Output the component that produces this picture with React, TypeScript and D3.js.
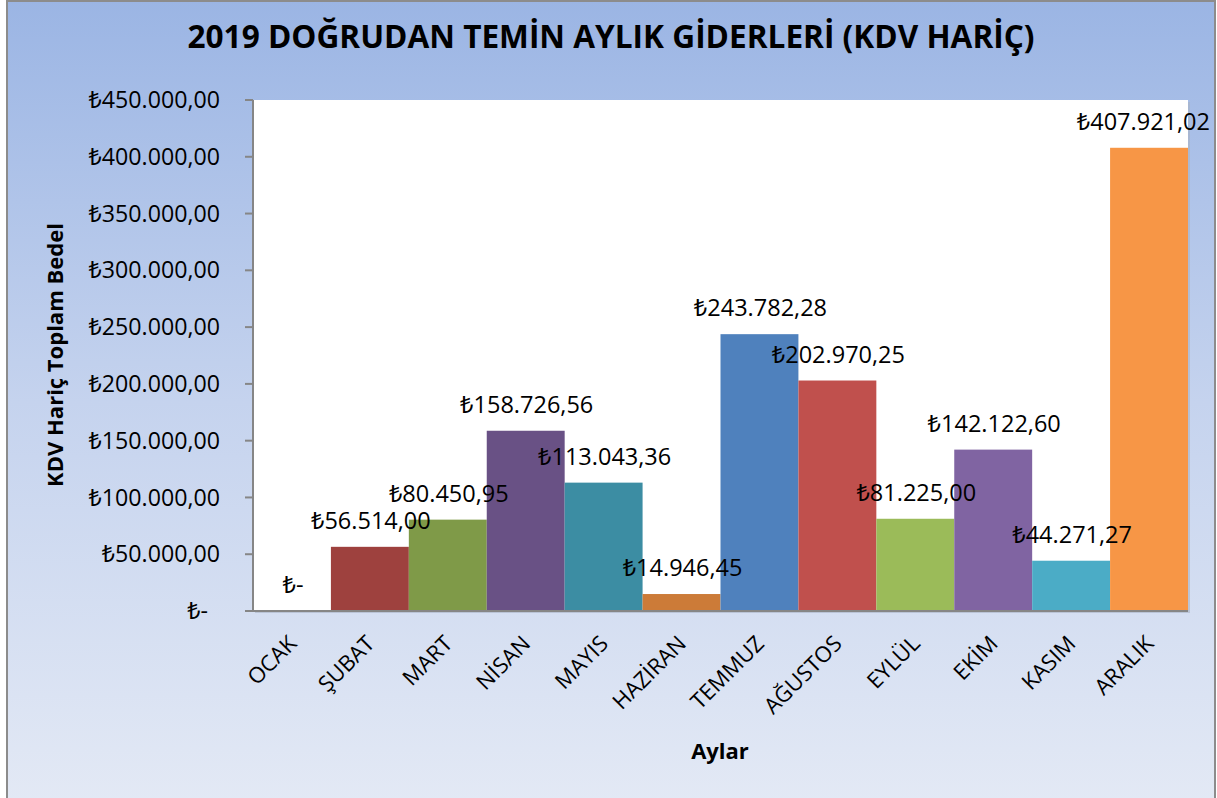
import React from "react";
import * as d3 from "d3";

const months = ["OCAK", "ŞUBAT", "MART", "NİSAN", "MAYIS", "HAZİRAN", "TEMMUZ", "AĞUSTOS", "EYLÜL", "EKİM", "KASIM", "ARALIK"];
const values = [0, 56514.0, 80450.95, 158726.56, 113043.36, 14946.45, 243782.28, 202970.25, 81225.0, 142122.6, 44271.27, 407921.02];
const colors = ["#4F81BD", "#9E413E", "#7F9A48", "#695185", "#3C8DA3", "#CC7B38", "#4F81BD", "#C0504D", "#9BBB59", "#8064A2", "#4BACC6", "#F79646"];
const yTicks = [0, 50000, 100000, 150000, 200000, 250000, 300000, 350000, 400000, 450000];
const title = "2019 DOĞRUDAN TEMİN AYLIK GİDERLERİ (KDV HARİÇ)";
const yTitle = "KDV Hariç Toplam Bedel";
const xTitle = "Aylar";

const W = 1217;
const H = 798;
const plotLeft = 253;
const plotRight = 1188;
const plotTop = 100;
const plotBottom = 611;
const FONT = "'Open Sans', 'Noto Sans', 'DejaVu Sans', sans-serif";

const locale = d3.formatLocale({ decimal: ",", thousands: ".", grouping: [3], currency: ["₺", ""] });
const fmt = locale.format("$,.2f");
const fmtVal = (v: number) => (v === 0 ? "₺-" : fmt(v));
const fmtTick = (v: number) => (v === 0 ? "₺-\u00A0\u00A0" : fmt(v));

export default function App() {
  const x = d3.scaleBand<string>().domain(months).range([plotLeft, plotRight]).padding(0);
  const y = d3.scaleLinear().domain([0, 450000]).range([plotBottom, plotTop]);
  const bw = x.bandwidth();

  return (
    <svg width={W} height={H} style={{ position: "absolute", left: 0, top: 0, fontFamily: FONT }}>
      <defs>
        <linearGradient id="bg" x1="0" y1="0" x2="0" y2="1">
          <stop offset="0" stopColor="#9BB5E4" />
          <stop offset="0.5" stopColor="#C5D3EE" />
          <stop offset="1" stopColor="#E3E9F5" />
        </linearGradient>
      </defs>
      <rect x={0} y={0} width={W} height={H} fill="#ffffff" />
      <rect x={7} y={1} width={1208} height={H + 4} fill="url(#bg)" stroke="#8C8C8C" strokeWidth={2} />
      {/* plot area shadow */}
      <rect x={plotLeft + 2} y={plotTop + 2} width={plotRight - plotLeft} height={plotBottom - plotTop} fill="#A8B3C4" opacity={0.6} />
      <rect x={plotLeft} y={plotTop} width={plotRight - plotLeft} height={plotBottom - plotTop} fill="#ffffff" />

      <text x={611} y={48} textAnchor="middle" fontSize={31.6} fontWeight="bold" fill="#000">
        {title}
      </text>

      {months.map((m, i) => (
        <rect key={m} x={x(m)!} y={y(values[i])} width={bw} height={plotBottom - y(values[i])} fill={colors[i]} />
      ))}

      {/* axes */}
      <line x1={plotLeft} y1={plotTop} x2={plotLeft} y2={plotBottom + 1} stroke="#868686" strokeWidth={2} />
      <line x1={plotLeft - 8} y1={plotBottom} x2={plotRight} y2={plotBottom} stroke="#868686" strokeWidth={2} />
      {yTicks.map((t) => (
        <g key={t}>
          <line x1={plotLeft - 8} x2={plotLeft} y1={y(t)} y2={y(t)} stroke="#868686" strokeWidth={2} />
          <text x={220} y={y(t)} dy="0.35em" textAnchor="end" fontSize={23.2} fill="#000">
            {fmtTick(t)}
          </text>
        </g>
      ))}

      {/* data labels */}
      {months.map((m, i) => {
        const cx = x(m)! + bw / 2;
        const atEdge = cx + 68 > 1212;
        return (
          <text
            key={"l" + m}
            x={atEdge ? 1210 : cx + 1}
            y={y(values[i]) - 18}
            textAnchor={atEdge ? "end" : "middle"}
            fontSize={23.5}
            fill="#000"
          >
            {fmtVal(values[i])}
          </text>
        );
      })}

      {/* x labels */}
      {months.map((m) => {
        const cx = x(m)! + bw / 2 + 6;
        const cy = plotBottom + 34;
        return (
          <text key={"x" + m} transform={`translate(${cx},${cy}) rotate(-45)`} textAnchor="end" fontSize={22} fill="#000">
            {m}
          </text>
        );
      })}

      <text x={720} y={759} textAnchor="middle" fontSize={22} fontWeight="bold" fill="#000">
        {xTitle}
      </text>
      <text transform={`translate(63,355) rotate(-90)`} textAnchor="middle" fontSize={22} fontWeight="bold" fill="#000">
        {yTitle}
      </text>
    </svg>
  );
}
